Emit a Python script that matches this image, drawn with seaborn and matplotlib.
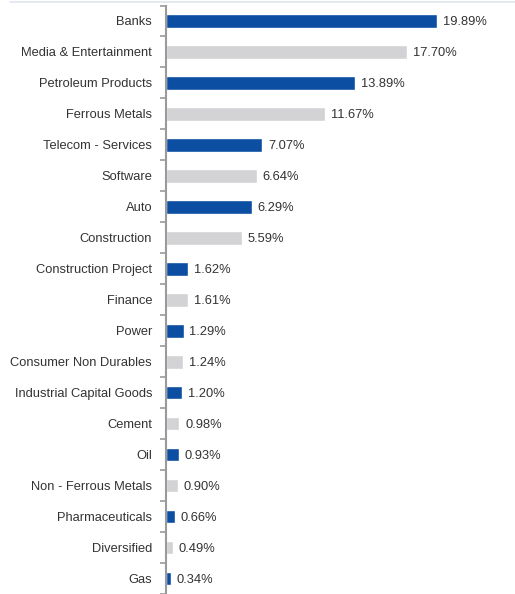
import numpy as np
import pandas as pd
from matplotlib import pyplot as plt
from matplotlib.lines import Line2D
import seaborn as sns

sectors = ['Banks', 'Media & Entertainment', 'Petroleum Products', 'Ferrous Metals',
           'Telecom - Services', 'Software', 'Auto', 'Construction',
           'Construction Project', 'Finance', 'Power', 'Consumer Non Durables',
           'Industrial Capital Goods', 'Cement', 'Oil', 'Non - Ferrous Metals',
           'Pharmaceuticals', 'Diversified', 'Gas']
weights = [19.89, 17.70, 13.89, 11.67, 7.07, 6.64, 6.29, 5.59, 1.62, 1.61,
           1.29, 1.24, 1.20, 0.98, 0.93, 0.90, 0.66, 0.49, 0.34]

df = pd.DataFrame({'sector': sectors, 'weight': weights})

sns.set_style('white')
plt.rcParams['font.family'] = ['Liberation Sans', 'DejaVu Sans']
plt.rcParams.update({'font.size': 9.3})

blue = '#0b4ea2'
grey = '#d3d3d5'
palette = [blue if i % 2 == 0 else grey for i in range(len(sectors))]

fig = plt.figure(figsize=(5.15, 5.94), dpi=100)
ax = fig.add_axes([166 / 515, 0.0, 1 - 166 / 515, 1 - 5.5 / 594])

sns.barplot(data=df, x='weight', y='sector', hue='sector', palette=palette,
            legend=False, width=0.44, saturation=1, ax=ax)

for i, v in enumerate(weights):
    ax.text(v + 0.42, i + 0.04, f'{v:.2f}%', va='center', ha='left', color='#333333', fontsize=9.3)

ax.set_xlim(0, 25.6)
ax.set_ylim(len(sectors) - 0.5, -0.5)
ax.set_xlabel('')
ax.set_ylabel('')
ax.set_xticks([])
ax.set_yticks(np.arange(len(sectors)))
ax.set_yticklabels(sectors, color='#333333')
ax.set_yticks(np.arange(len(sectors) + 1) - 0.5, minor=True)
ax.tick_params(axis='y', which='major', left=False, length=0, pad=10)
ax.tick_params(axis='y', which='minor', left=True, length=4, width=1.2,
               color='#9a9a9a', direction='out')
for s in ['top', 'right', 'bottom']:
    ax.spines[s].set_visible(False)
ax.spines['left'].set_color('#9a9a9a')
ax.spines['left'].set_linewidth(1.5)

fig.add_artist(Line2D([10 / 515, 1], [1 - 1.5 / 594, 1 - 1.5 / 594],
                      color='#dfe4ef', linewidth=1.2, transform=fig.transFigure))

plt.savefig('out.png', dpi=100)
